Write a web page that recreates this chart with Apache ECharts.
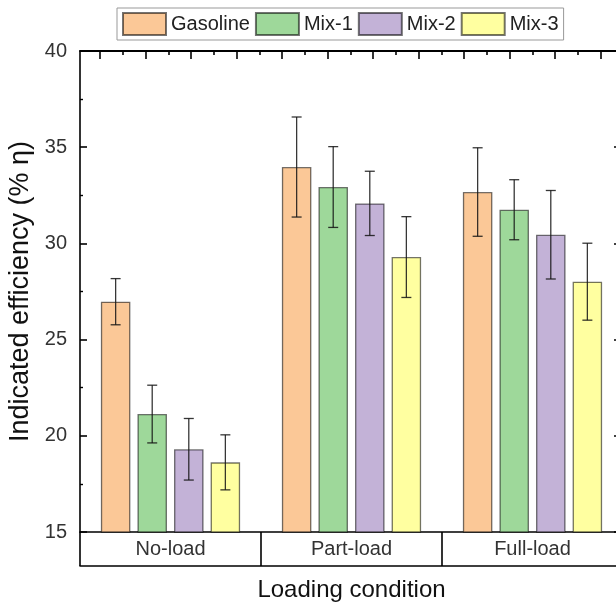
<!DOCTYPE html>
<html>
<head>
<meta charset="utf-8">
<script src="https://cdn.jsdelivr.net/npm/echarts@6/dist/echarts.min.js"></script>
<style>
html,body{margin:0;padding:0;background:#fff;}
#chart{width:616px;height:607px;}
</style>
</head>
<body>
<div id="chart"></div>
<script>
var categories = ['No-load', 'Part-load', 'Full-load'];
var seriesNames = ['Gasoline', 'Mix-1', 'Mix-2', 'Mix-3'];
var gasoline = [26.97, 33.97, 32.67];
var gasolineErr = [1.2, 2.6, 2.3];
var mix1 = [21.13, 32.93, 31.75];
var mix1Err = [1.5, 2.1, 1.56];
var mix2 = [19.30, 32.08, 30.45];
var mix2Err = [1.6, 1.67, 2.3];
var mix3 = [18.62, 29.29, 28.01];
var mix3Err = [1.43, 2.1, 2.0];
var yTicks = [15, 20, 25, 30, 35, 40];

var colors = ['#FBC897', '#9ED89A', '#C3B2D7', '#FFFFA0'];
var values = [gasoline, mix1, mix2, mix3];
var errs = [gasolineErr, mix1Err, mix2Err, mix3Err];

var FONT = '"Liberation Sans", Arial, sans-serif';
var BAR_W = 29.5;
var GAP_RATIO = 0.24;
var STEP = BAR_W * (1 + GAP_RATIO);

var chart = echarts.init(document.getElementById('chart'), null, {renderer: 'canvas'});

var series = [];
values.forEach(function (vals, i) {
  series.push({
    name: seriesNames[i],
    type: 'bar',
    xAxisIndex: 0,
    yAxisIndex: 0,
    barWidth: BAR_W,
    barGap: (GAP_RATIO * 100) + '%',
    data: vals,
    itemStyle: {color: colors[i], borderColor: 'rgba(0,0,0,0.55)', borderWidth: 1.3},
    emphasis: {disabled: true},
    z: 2
  });
});
values.forEach(function (vals, i) {
  var offset = (i - (values.length - 1) / 2) * STEP;
  series.push({
    name: seriesNames[i] + ' err',
    type: 'custom',
    xAxisIndex: 0,
    yAxisIndex: 0,
    data: vals.map(function (v, k) { return [k, v - errs[i][k], v + errs[i][k]]; }),
    encode: {x: 0, y: [1, 2]},
    z: 5,
    silent: true,
    renderItem: function (params, api) {
      var lo = api.coord([api.value(0), api.value(1)]);
      var hi = api.coord([api.value(0), api.value(2)]);
      var x = lo[0] + offset;
      var cap = 5;
      var st = {stroke: 'rgba(20,20,20,0.85)', lineWidth: 1.3, fill: null};
      return {
        type: 'group',
        children: [
          {type: 'line', shape: {x1: x, y1: lo[1], x2: x, y2: hi[1]}, style: st},
          {type: 'line', shape: {x1: x - cap, y1: lo[1], x2: x + cap, y2: lo[1]}, style: st},
          {type: 'line', shape: {x1: x - cap, y1: hi[1], x2: x + cap, y2: hi[1]}, style: st}
        ]
      };
    }
  });
});

var option = {
  animation: false,
  backgroundColor: '#fff',
  textStyle: {fontFamily: FONT},
  legend: {
    data: seriesNames,
    left: 117,
    top: 8,
    itemWidth: 43,
    itemHeight: 22,
    itemGap: 5,
    padding: [4, 5, 4, 5],
    borderColor: '#999',
    borderWidth: 1,
    textStyle: {fontSize: 20, color: '#222', fontFamily: FONT},
    icon: 'rect',
    selectedMode: false
  },
  grid: [
    {left: 80, top: 51, width: 543, height: 481, outerBoundsMode: 'none', containLabel: false},
    {left: 100, top: 51, width: 546, height: 481, outerBoundsMode: 'none', containLabel: false}
  ],
  xAxis: [
    {
      type: 'category', gridIndex: 0, position: 'bottom', data: categories,
      axisLine: {show: true, onZero: false, lineStyle: {color: '#000', width: 1.6}},
      axisTick: {show: true, inside: false, length: 34, lineStyle: {color: '#000', width: 1.6}},
      axisLabel: {fontSize: 20, color: '#333', margin: 7, fontFamily: FONT}
    },
    {
      type: 'category', gridIndex: 0, position: 'bottom', offset: 34, data: categories,
      axisLine: {show: true, onZero: false, lineStyle: {color: '#000', width: 1.6}},
      axisTick: {show: false}, axisLabel: {show: false},
      name: 'Loading condition', nameLocation: 'middle', nameGap: 12,
      nameTextStyle: {fontSize: 24, color: '#111', fontFamily: FONT}
    },
    {
      type: 'category', gridIndex: 0, position: 'top', data: categories,
      axisLine: {show: true, onZero: false, lineStyle: {color: '#000', width: 1.8}},
      axisTick: {show: false}, axisLabel: {show: false}
    },
    {
      type: 'value', gridIndex: 1, position: 'top', min: 0, max: 12, interval: 1,
      axisLine: {show: false, onZero: false},
      axisTick: {show: true, inside: true, length: 8, lineStyle: {color: '#000', width: 1.6}},
      minorTick: {show: true, splitNumber: 2, length: 4, lineStyle: {color: '#000', width: 1.6}},
      axisLabel: {show: false}, splitLine: {show: false}
    }
  ],
  yAxis: [
    {
      type: 'value', gridIndex: 0, min: yTicks[0], max: yTicks[yTicks.length - 1], interval: 5,
      axisLine: {show: true, onZero: false, lineStyle: {color: '#000', width: 1.6}},
      axisTick: {show: true, inside: true, length: 7, lineStyle: {color: '#000', width: 1.6}},
      minorTick: {show: true, splitNumber: 2, length: 3, lineStyle: {color: '#000', width: 1.4}},
      axisLabel: {fontSize: 20, color: '#333', margin: 13, fontFamily: FONT},
      splitLine: {show: false},
      name: 'Indicated efficiency (% \u03b7)', nameLocation: 'middle', nameGap: 46,
      nameTextStyle: {fontSize: 27, color: '#111', fontFamily: FONT}
    },
    {
      type: 'value', gridIndex: 0, position: 'right', min: yTicks[0], max: yTicks[yTicks.length - 1], interval: 5,
      axisLine: {show: true, onZero: false, lineStyle: {color: '#000', width: 1.6}},
      axisTick: {show: true, inside: true, length: 9, lineStyle: {color: '#000', width: 1.6}},
      minorTick: {show: true, splitNumber: 2, length: 4, lineStyle: {color: '#000', width: 1.4}},
      axisLabel: {show: false}, splitLine: {show: false}
    },
    {type: 'value', gridIndex: 1, show: false, min: 0, max: 1}
  ],
  series: series
};
chart.setOption(option);
</script>
</body>
</html>
